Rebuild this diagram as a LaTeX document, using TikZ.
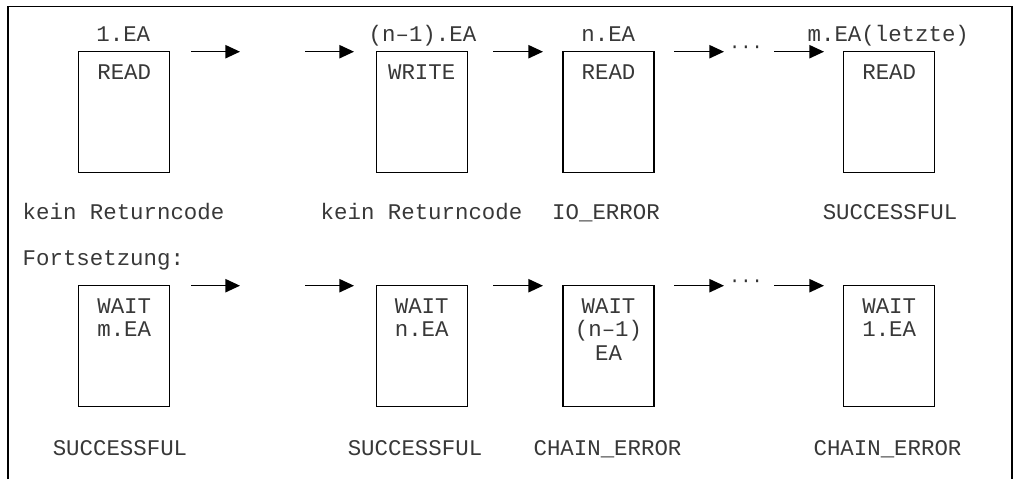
\documentclass[tikz,border=0pt]{standalone}
\usepackage{fontspec}
\newfontfamily\eafont{Liberation Mono}
\usetikzlibrary{arrows.meta,calc}
\begin{document}
\begin{tikzpicture}[x=0.75pt,y=-0.75pt,
  every node/.style={inner sep=0pt, outer sep=0pt},
  txt/.style={font=\eafont\fontsize{16.8}{18}\selectfont, text=black!78, anchor=base},
  lefttxt/.style={txt, anchor=base west},
  dottxt/.style={font=\eafont\fontsize{14}{16}\selectfont, text=black!80, anchor=center},
  opbox/.style={draw, line width=1pt, minimum width=68.25pt, minimum height=90.4pt},
  flow/.style={line width=1pt, -{Triangle[length=11pt,width=10pt]}},
  frameline/.style={line width=1pt}
]
\useasboundingbox (0,0) rectangle (1015,479);

% frame (open at the bottom)
\draw[frameline] (8,479) -- (8,6.7) -- (1012,6.7) -- (1012,479);

% ---------- row 1 ----------
\node[opbox] (b1) at (124.2,112) {};
\node[opbox] (b2) at (421.7,112) {};
\node[opbox] (b3) at (608.5,112) {};
\node[opbox] (b4) at (889.2,112) {};

\node[txt] (h1) at (123.3,41.7) {1.EA};
\node[txt] (h2) at (422.5,41.7) {(n–1).EA};
\node[txt] (h3) at (608.3,41.7) {n.EA};
\node[txt] (h4) at (888.3,41.7) {m.EA(letzte)};

\node[txt] (o1) at ($(b1.north)+(0,27.3)$) {READ};
\node[txt] (o2) at ($(b2.north)+(0,27.3)$) {WRITE};
\node[txt] (o3) at ($(b3.north)+(0,27.3)$) {READ};
\node[txt] (o4) at ($(b4.north)+(0,27.3)$) {READ};

\node[lefttxt] (rc1) at (22.7,219) {kein Returncode};
\node[lefttxt] (rc2) at (320.7,219) {kein Returncode};
\node[txt] (rc3) at (606,219) {IO\_ERROR};
\node[txt] (rc4) at (890,219) {SUCCESSFUL};

\coordinate (a1s) at (191,51.7);  \coordinate (a1e) at (240,51.7);
\coordinate (a2s) at (305,51.7);  \coordinate (a2e) at (354,51.7);
\coordinate (a3s) at (493,51.7);  \coordinate (a3e) at (543,51.7);
\coordinate (a4s) at (674,51.7);  \coordinate (a4e) at (724,51.7);
\coordinate (a5s) at (774,51.7);  \coordinate (a5e) at (824,51.7);
\draw[flow] (a1s) -- (a1e);
\draw[flow] (a2s) -- (a2e);
\draw[flow] (a3s) -- (a3e);
\draw[flow] (a4s) -- (a4e);
\draw[flow] (a5s) -- (a5e);
\node[dottxt] (dots1) at (746,49.5) {···};

% ---------- row 2 ----------
\node[lefttxt] (fort) at (22.7,265) {Fortsetzung:};

\node[opbox] (c1) at (124.2,345.9) {};
\node[opbox] (c2) at (421.7,345.9) {};
\node[opbox] (c3) at (608.5,345.9) {};
\node[opbox] (c4) at (889.2,345.9) {};

\node[txt] (w1a) at ($(c1.north)+(0,28)$) {WAIT};
\node[txt] (w1b) at ($(c1.north)+(0,51)$) {m.EA};
\node[txt] (w2a) at ($(c2.north)+(0,28)$) {WAIT};
\node[txt] (w2b) at ($(c2.north)+(0,51)$) {n.EA};
\node[txt] (w3a) at ($(c3.north)+(0,28)$) {WAIT};
\node[txt] (w3b) at ($(c3.north)+(0,51)$) {(n–1)};
\node[txt] (w3c) at ($(c3.north)+(0,75)$) {EA};
\node[txt] (w4a) at ($(c4.north)+(0,28)$) {WAIT};
\node[txt] (w4b) at ($(c4.north)+(0,51)$) {1.EA};

\node[txt] (s1) at (120,455.5) {SUCCESSFUL};
\node[txt] (s2) at (415,455.5) {SUCCESSFUL};
\node[txt] (s3) at (607.5,455.5) {CHAIN\_ERROR};
\node[txt] (s4) at (887.5,455.5) {CHAIN\_ERROR};

\coordinate (e1s) at (191,285.7);  \coordinate (e1e) at (240,285.7);
\coordinate (e2s) at (305,285.7);  \coordinate (e2e) at (354,285.7);
\coordinate (e3s) at (493,285.7);  \coordinate (e3e) at (543,285.7);
\coordinate (e4s) at (674,285.7);  \coordinate (e4e) at (724,285.7);
\coordinate (e5s) at (774,285.7);  \coordinate (e5e) at (824,285.7);
\draw[flow] (e1s) -- (e1e);
\draw[flow] (e2s) -- (e2e);
\draw[flow] (e3s) -- (e3e);
\draw[flow] (e4s) -- (e4e);
\draw[flow] (e5s) -- (e5e);
\node[dottxt] (dots2) at (746,283.5) {···};
\end{tikzpicture}
\end{document}
